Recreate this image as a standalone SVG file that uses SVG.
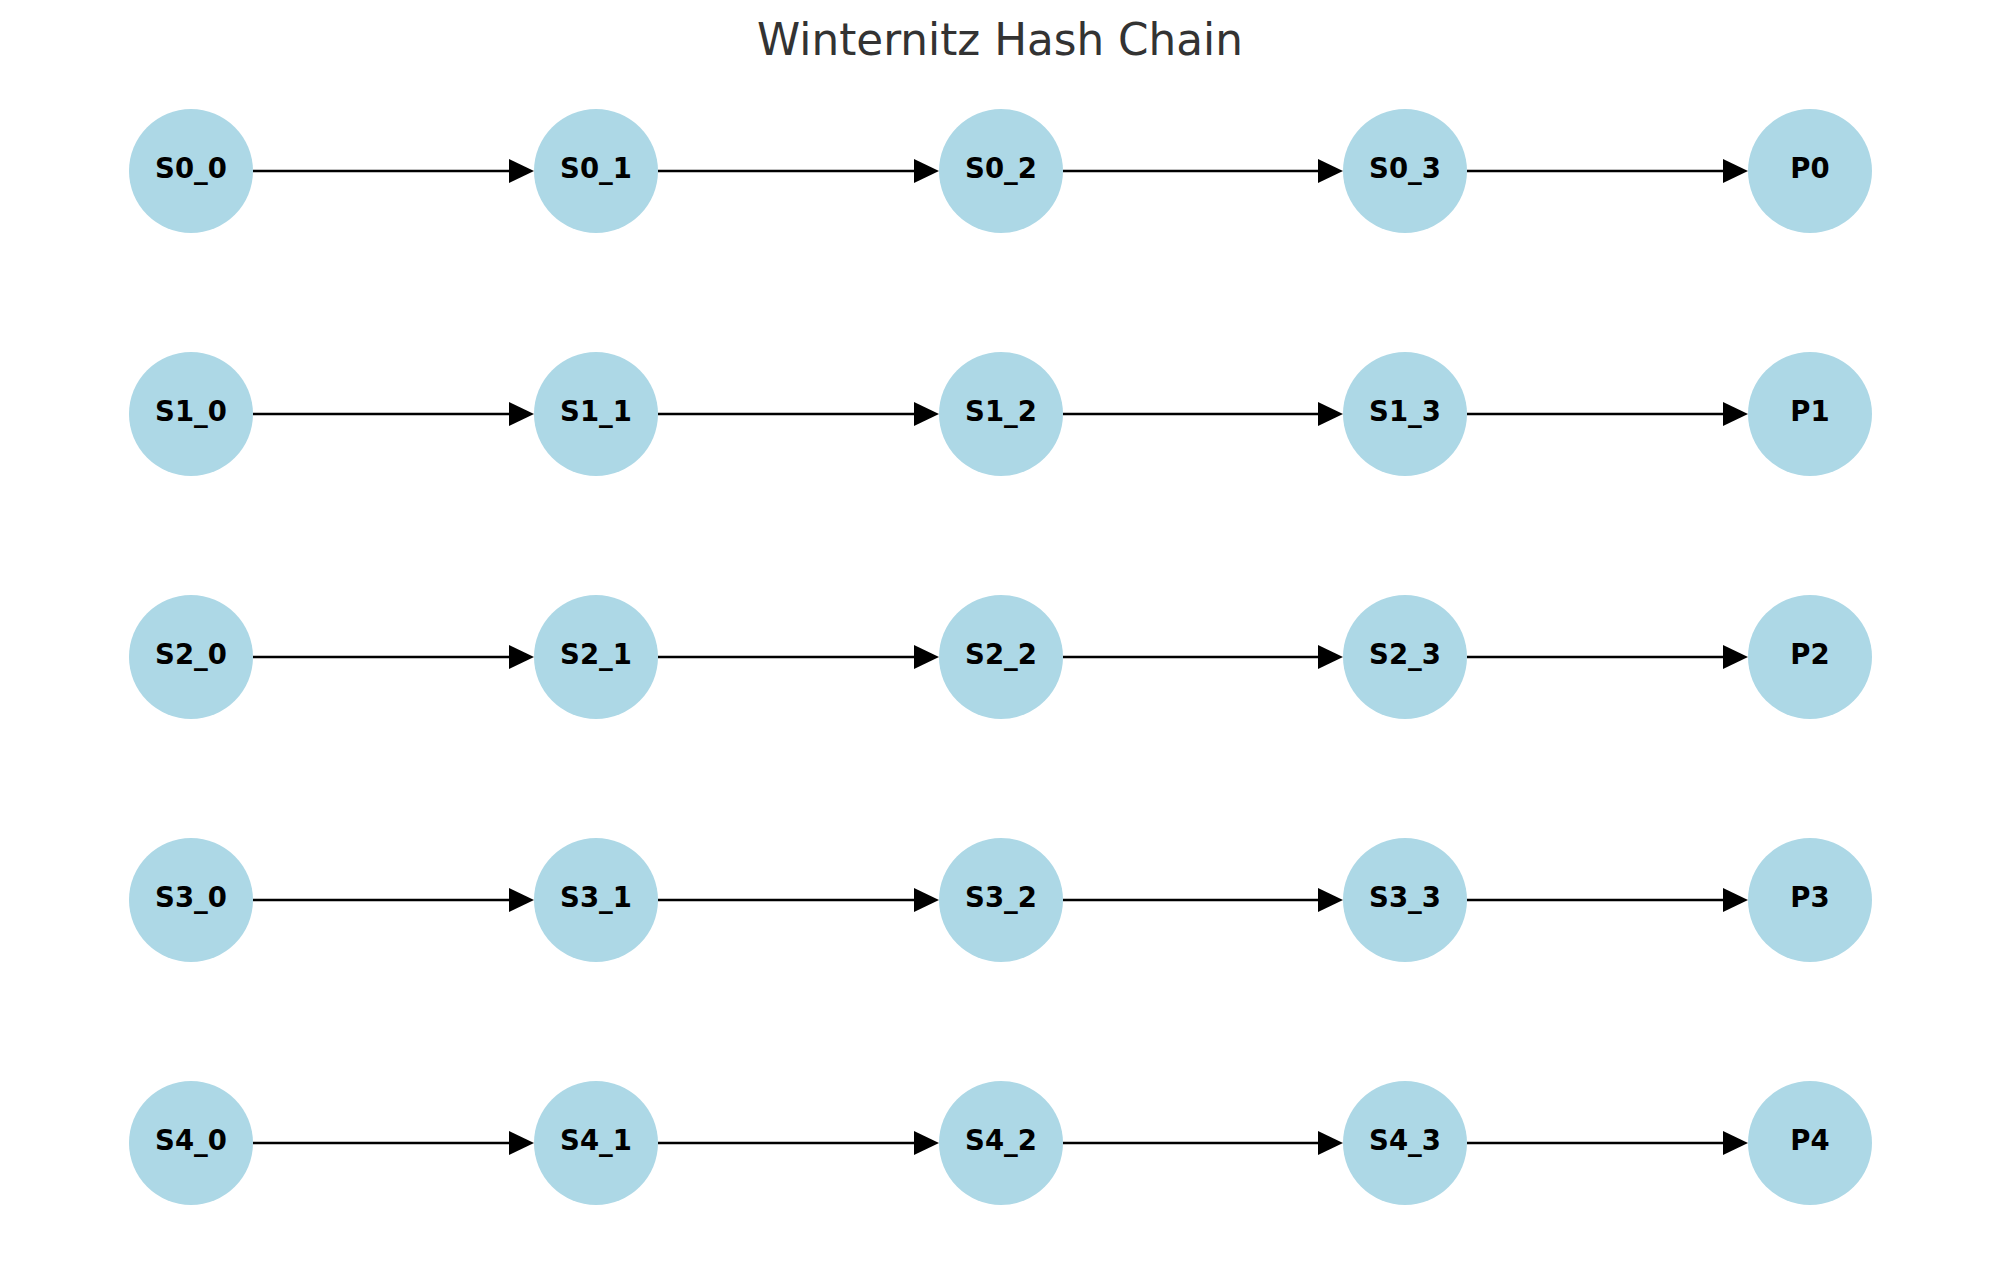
<svg xmlns="http://www.w3.org/2000/svg" width="1999" height="1265" viewBox="0 0 1999 1265">
<style>
.node circle{fill:#ADD8E6;}
.node text{font-family:"DejaVu Sans",sans-serif;font-weight:bold;font-size:27.5px;fill:#000;text-anchor:middle;}
.title{font-family:"DejaVu Sans",sans-serif;font-size:43.7px;fill:#333333;text-anchor:middle;}
#edges line{stroke:#000;stroke-width:2.5;marker-end:url(#arr);}
</style>
<defs>
<marker id="arr" markerUnits="userSpaceOnUse" markerWidth="26" markerHeight="26" refX="0" refY="12" orient="auto" viewBox="0 0 26 24" overflow="visible">
<path d="M0,0 L25,12 L0,24 Z" fill="#000"/>
</marker>
</defs>
<rect width="1999" height="1265" fill="#fff"/>
<text class="title" x="1000" y="55">Winternitz Hash Chain</text>
<g id="edges">
<line x1="253" y1="171" x2="509" y2="171"/>
<line x1="658" y1="171" x2="914" y2="171"/>
<line x1="1063" y1="171" x2="1318" y2="171"/>
<line x1="1467" y1="171" x2="1723" y2="171"/>
<line x1="253" y1="414" x2="509" y2="414"/>
<line x1="658" y1="414" x2="914" y2="414"/>
<line x1="1063" y1="414" x2="1318" y2="414"/>
<line x1="1467" y1="414" x2="1723" y2="414"/>
<line x1="253" y1="657" x2="509" y2="657"/>
<line x1="658" y1="657" x2="914" y2="657"/>
<line x1="1063" y1="657" x2="1318" y2="657"/>
<line x1="1467" y1="657" x2="1723" y2="657"/>
<line x1="253" y1="900" x2="509" y2="900"/>
<line x1="658" y1="900" x2="914" y2="900"/>
<line x1="1063" y1="900" x2="1318" y2="900"/>
<line x1="1467" y1="900" x2="1723" y2="900"/>
<line x1="253" y1="1143" x2="509" y2="1143"/>
<line x1="658" y1="1143" x2="914" y2="1143"/>
<line x1="1063" y1="1143" x2="1318" y2="1143"/>
<line x1="1467" y1="1143" x2="1723" y2="1143"/>
</g>
<g id="n-S0_0" class="node"><circle cx="191" cy="171" r="62"/><text x="191" y="178">S0_0</text></g>
<g id="n-S0_1" class="node"><circle cx="596" cy="171" r="62"/><text x="596" y="178">S0_1</text></g>
<g id="n-S0_2" class="node"><circle cx="1001" cy="171" r="62"/><text x="1001" y="178">S0_2</text></g>
<g id="n-S0_3" class="node"><circle cx="1405" cy="171" r="62"/><text x="1405" y="178">S0_3</text></g>
<g id="n-P0" class="node"><circle cx="1810" cy="171" r="62"/><text x="1810" y="178">P0</text></g>
<g id="n-S1_0" class="node"><circle cx="191" cy="414" r="62"/><text x="191" y="421">S1_0</text></g>
<g id="n-S1_1" class="node"><circle cx="596" cy="414" r="62"/><text x="596" y="421">S1_1</text></g>
<g id="n-S1_2" class="node"><circle cx="1001" cy="414" r="62"/><text x="1001" y="421">S1_2</text></g>
<g id="n-S1_3" class="node"><circle cx="1405" cy="414" r="62"/><text x="1405" y="421">S1_3</text></g>
<g id="n-P1" class="node"><circle cx="1810" cy="414" r="62"/><text x="1810" y="421">P1</text></g>
<g id="n-S2_0" class="node"><circle cx="191" cy="657" r="62"/><text x="191" y="664">S2_0</text></g>
<g id="n-S2_1" class="node"><circle cx="596" cy="657" r="62"/><text x="596" y="664">S2_1</text></g>
<g id="n-S2_2" class="node"><circle cx="1001" cy="657" r="62"/><text x="1001" y="664">S2_2</text></g>
<g id="n-S2_3" class="node"><circle cx="1405" cy="657" r="62"/><text x="1405" y="664">S2_3</text></g>
<g id="n-P2" class="node"><circle cx="1810" cy="657" r="62"/><text x="1810" y="664">P2</text></g>
<g id="n-S3_0" class="node"><circle cx="191" cy="900" r="62"/><text x="191" y="907">S3_0</text></g>
<g id="n-S3_1" class="node"><circle cx="596" cy="900" r="62"/><text x="596" y="907">S3_1</text></g>
<g id="n-S3_2" class="node"><circle cx="1001" cy="900" r="62"/><text x="1001" y="907">S3_2</text></g>
<g id="n-S3_3" class="node"><circle cx="1405" cy="900" r="62"/><text x="1405" y="907">S3_3</text></g>
<g id="n-P3" class="node"><circle cx="1810" cy="900" r="62"/><text x="1810" y="907">P3</text></g>
<g id="n-S4_0" class="node"><circle cx="191" cy="1143" r="62"/><text x="191" y="1150">S4_0</text></g>
<g id="n-S4_1" class="node"><circle cx="596" cy="1143" r="62"/><text x="596" y="1150">S4_1</text></g>
<g id="n-S4_2" class="node"><circle cx="1001" cy="1143" r="62"/><text x="1001" y="1150">S4_2</text></g>
<g id="n-S4_3" class="node"><circle cx="1405" cy="1143" r="62"/><text x="1405" y="1150">S4_3</text></g>
<g id="n-P4" class="node"><circle cx="1810" cy="1143" r="62"/><text x="1810" y="1150">P4</text></g>
</svg>
